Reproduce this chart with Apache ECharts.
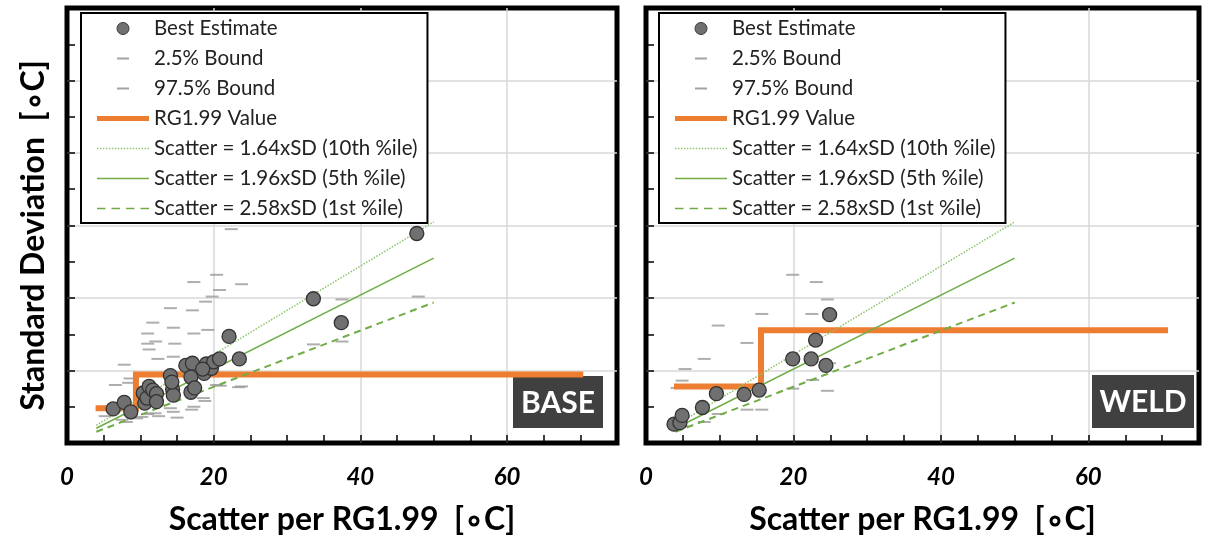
<!DOCTYPE html>
<html><head><meta charset="utf-8">
<script src="https://cdn.jsdelivr.net/npm/echarts@6/dist/echarts.min.js"></script>
<style>html,body{margin:0;padding:0;background:#fff}#c{width:1206px;height:547px}</style>
</head><body><div id="c"></div>
<script>
// ---------- data ----------
const xTickLabels = ['0', '20', '40', '60'];
const panelLabels = ['BASE', 'WELD'];
const legendNames = ['Best Estimate', '2.5% Bound', '97.5% Bound', 'RG1.99 Value',
  'Scatter = 1.64xSD (10th %ile)', 'Scatter = 1.96xSD (5th %ile)', 'Scatter = 2.58xSD (1st %ile)'];

const baseBest = [[6.3,4.7],[7.8,5.6],[8.7,4.3],[10.6,5.5],[10.4,6.9],[10.9,6.2],[11.2,7.8],[11.7,7.3],
  [12.2,6.8],[12.2,5.7],[14.1,9.3],[14.4,7.4],[14.5,6.6],[14.3,8.4],[16.2,10.7],[17.1,11.0],[16.9,9.1],
  [16.9,7.0],[17.4,7.6],[18.7,9.6],[19.0,10.9],[19.7,10.3],[20.0,11.2],[20.8,11.6],[18.5,10.2],
  [22.1,14.7],[23.5,11.6],[33.6,19.9],[37.4,16.6],[47.7,28.9]];
const baseLow = [[5.2,3.7],[7.5,3.2],[8.1,2.9],[9.5,3.4],[10.2,3.6],[11.0,4.0],[12.0,4.1],[12.5,3.7],
  [14.1,4.8],[14.5,4.3],[15.0,3.5],[17.0,4.6],[17.3,5.0],[18.6,6.2],[18.8,5.8],[20.4,8.0],[20.9,7.9],
  [22.5,9.6],[23.4,7.7],[23.8,7.8],[33.6,13.6],[37.5,14.0],[47.9,20.2]];
const baseHigh = [[6.6,8.0],[8.4,8.3],[7.8,10.8],[8.6,8.9],[11.1,8.3],[11.0,15.1],[11.7,16.6],[11.0,13.7],
  [11.2,12.9],[12.1,14.0],[12.4,11.6],[14.1,18.6],[14.5,15.9],[14.7,13.7],[14.5,11.9],[17.3,22.2],
  [17.1,18.3],[17.3,15.1],[19.2,15.6],[18.9,19.5],[19.8,20.2],[20.4,23.2],[20.8,21.1],[23.8,21.9],
  [22.4,29.5],[33.6,31.5],[37.5,19.8],[47.9,37.5]];
const baseRG = [[3.9,4.8],[9.4,4.8],[9.4,9.44],[70.4,9.44]];

const weldBest = [[3.8,2.6],[4.6,2.8],[4.9,3.8],[7.65,4.9],[9.55,6.8],[13.3,6.7],[15.35,7.3],
  [19.9,11.6],[22.4,11.6],[23.0,14.2],[24.4,10.7],[24.9,17.7]];
const weldLow = [[3.9,2.1],[4.9,2.3],[7.9,2.9],[9.8,4.0],[13.7,4.6],[15.7,4.6],[19.9,7.5],
  [22.6,8.7],[24.6,7.2],[24.9,11.0]];
const weldHigh = [[4.2,7.6],[4.9,8.6],[5.3,10.2],[7.9,11.6],[9.8,16.2],[13.7,13.8],[15.7,17.8],
  [19.9,23.2],[22.5,17.8],[23.1,22.2],[24.6,19.8]];
const weldRG = [[3.8,7.8],[15.6,7.8],[15.6,15.56],[70.8,15.56]];

const sd164 = [[4,2.44],[50,30.49]];
const sd196 = [[4,2.04],[50,25.51]];
const sd258 = [[4,1.55],[50,19.38]];

// ---------- styling / layout ----------
const FONT = 'Lato, "Open Sans", sans-serif';
const GREEN = '#70AD47', ORANGE = '#ED7D31', GRID_C = '#d9d9d9', DASH_C = '#9a9a9a';
const grids = [
  {left: 67, top: 8, width: 550, height: 435},
  {left: 646, top: 8, width: 553, height: 435}
];
const legendLeft = [81, 659];
const labelBox = [{left: 513, top: 376, w: 90, h: 52}, {left: 1092, top: 375, w: 102, h: 53}];

function dotsPath() {
  let p = 'path://M0,0M52,12';
  for (let k = 0; k < 52; k += 3) p += 'M' + k + ',5.3h1.4v1.4h-1.4z';
  return p;
}
function dashPath() {
  let p = 'path://M0,0M52,12';
  for (let k = 0; k < 52; k += 17) p += 'M' + k + ',5h10v2h-10z';
  return p;
}
const legendData = [
  {name: legendNames[0], icon: 'circle', itemStyle: {color: '#707070', borderColor: '#3a3a3a', borderWidth: 1}},
  {name: legendNames[1], icon: 'path://M0,0M52,12M20,5h12v2h-12z', itemStyle: {color: '#8c8c8c', borderWidth: 0}},
  {name: legendNames[2], icon: 'path://M0,0M52,12M20,5h12v2h-12z', itemStyle: {color: '#8c8c8c', borderWidth: 0}},
  {name: legendNames[3], icon: 'path://M0,0M52,12M0,3.5h52v5h-52z', itemStyle: {color: ORANGE, borderWidth: 0}},
  {name: legendNames[4], icon: dotsPath(), itemStyle: {color: '#8cc46a', borderWidth: 0}},
  {name: legendNames[5], icon: 'path://M0,0M52,12M0,5.2h52v1.6h-52z', itemStyle: {color: GREEN, borderWidth: 0}},
  {name: legendNames[6], icon: dashPath(), itemStyle: {color: GREEN, borderWidth: 0}}
];

const tickLine = {color: '#000', width: 1.5};
const titleStyle = {fontFamily: FONT, fontWeight: 'bold', fontSize: 32, color: '#000'};
const xAxes = [], yAxes = [], series = [], legends = [], graphics = [];
grids.forEach((g, gi) => {
  xAxes.push({
    type: 'value', gridIndex: gi, min: 0, max: 75, interval: 5,
    axisLine: {show: false},
    axisTick: {show: true, inside: true, length: 8, lineStyle: tickLine},
    splitLine: {show: false},
    axisLabel: {
      formatter: v => (xTickLabels.indexOf(String(v)) >= 0 ? String(v) : ''),
      margin: 22, color: '#000', fontFamily: FONT, fontStyle: 'italic', fontWeight: 'bold', fontSize: 24
    },
    name: 'Scatter per RG1.99  [\u2218C]', nameLocation: 'middle', nameGap: 61,
    nameTextStyle: titleStyle
  });
  xAxes.push({
    type: 'value', gridIndex: gi, min: 0, max: 75, interval: 20, position: 'top',
    axisLine: {show: false}, axisTick: {show: false}, axisLabel: {show: false},
    splitLine: {show: true, showMinLine: false, showMaxLine: false, lineStyle: {color: GRID_C, width: 1.5}}
  });
  yAxes.push({
    type: 'value', gridIndex: gi, min: 0, max: 60, interval: 10,
    axisLine: {show: false},
    axisTick: {show: true, inside: true, length: 8, lineStyle: tickLine},
    minorTick: {show: true, splitNumber: 2, length: 8, lineStyle: tickLine},
    axisLabel: {show: false},
    splitLine: {show: true, showMinLine: false, showMaxLine: false, lineStyle: {color: GRID_C, width: 1.5}},
    name: gi === 0 ? 'Standard Deviation  [\u2218C]' : '', nameLocation: 'middle', nameGap: 17,
    nameTextStyle: Object.assign({padding: [0, 20, 0, 0]}, titleStyle)
  });
  const best = gi === 0 ? baseBest : weldBest;
  const low = gi === 0 ? baseLow : weldLow;
  const high = gi === 0 ? baseHigh : weldHigh;
  const rg = gi === 0 ? baseRG : weldRG;
  const xi = gi * 2, yi = gi;
  series.push(
    {name: legendNames[1], type: 'scatter', xAxisIndex: xi, yAxisIndex: yi, data: low, symbol: 'rect',
      symbolSize: [13, 2], itemStyle: {color: DASH_C}, z: 2, silent: true},
    {name: legendNames[2], type: 'scatter', xAxisIndex: xi, yAxisIndex: yi, data: high, symbol: 'rect',
      symbolSize: [13, 2], itemStyle: {color: DASH_C}, z: 2, silent: true},
    {name: legendNames[3], type: 'line', xAxisIndex: xi, yAxisIndex: yi, data: rg, symbol: 'none',
      itemStyle: {color: ORANGE}, lineStyle: {color: ORANGE, width: 6, join: 'miter', cap: 'butt'}, z: 3, silent: true},
    {name: legendNames[4], type: 'line', xAxisIndex: xi, yAxisIndex: yi, data: sd164, symbol: 'none',
      itemStyle: {color: GREEN}, lineStyle: {color: '#8cc46a', width: 1.5, type: [1.5, 1.5]}, z: 4, silent: true},
    {name: legendNames[5], type: 'line', xAxisIndex: xi, yAxisIndex: yi, data: sd196, symbol: 'none',
      itemStyle: {color: GREEN}, lineStyle: {color: GREEN, width: 1.5}, z: 4, silent: true},
    {name: legendNames[6], type: 'line', xAxisIndex: xi, yAxisIndex: yi, data: sd258, symbol: 'none',
      itemStyle: {color: GREEN}, lineStyle: {color: GREEN, width: 2, type: [7, 5]}, z: 4, silent: true},
    {name: legendNames[0], type: 'scatter', xAxisIndex: xi, yAxisIndex: yi, data: best, symbol: 'circle',
      symbolSize: 14, itemStyle: {color: '#707070', borderColor: '#333', borderWidth: 1.3, opacity: 1}, z: 5, silent: true}
  );
  legends.push({
    left: legendLeft[gi], top: 13, orient: 'vertical', itemWidth: 52, itemHeight: 12, itemGap: 9,
    padding: [5, 10, 4, 16], backgroundColor: '#fff', borderColor: '#000', borderWidth: 2,
    selectedMode: false, z: 10, symbolKeepAspect: true,
    textStyle: {fontFamily: FONT, fontSize: 20.5, color: '#222', lineHeight: 20},
    data: legendData
  });
  const b = labelBox[gi];
  graphics.push({
    type: 'group', left: b.left, top: b.top, z: 20,
    children: [
      {type: 'rect', shape: {x: 0, y: 0, width: b.w, height: b.h}, style: {fill: '#404040'}},
      {type: 'text', x: b.w / 2, y: b.h / 2 + 1, style: {text: panelLabels[gi], fill: '#fff',
        font: 'bold 30px ' + FONT, align: 'center', verticalAlign: 'middle'}}
    ]
  });
});

const chart = echarts.init(document.getElementById('c'), null, {renderer: 'canvas'});
chart.setOption({
  backgroundColor: '#fff',
  animation: false,
  grid: grids.map(g => Object.assign({show: true, borderColor: '#000', borderWidth: 5, backgroundColor: 'transparent'}, g)),
  xAxis: xAxes,
  yAxis: yAxes,
  legend: legends,
  series: series,
  graphic: graphics
});
</script>
</body></html>
